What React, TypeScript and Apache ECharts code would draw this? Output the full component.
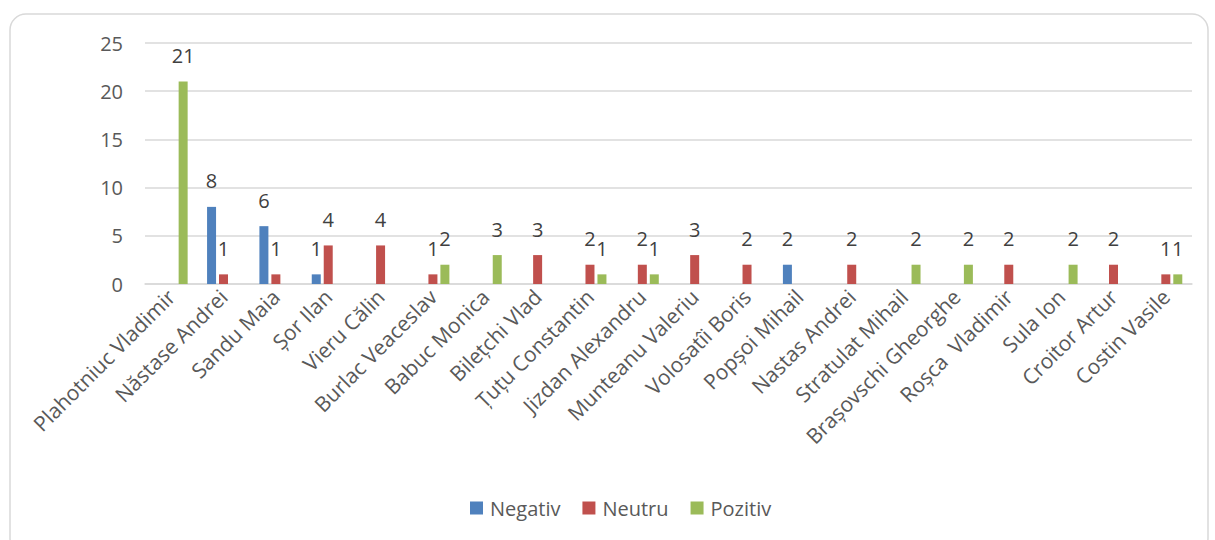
import React, { useEffect, useRef } from "react";
import * as echarts from "echarts";

const categories = [
  "Plahotniuc Vladimir", "Năstase Andrei", "Sandu Maia", "Șor Ilan", "Vieru Călin",
  "Burlac Veaceslav", "Babuc Monica", "Bilețchi Vlad", "Țuțu Constantin", "Jizdan Alexandru",
  "Munteanu Valeriu", "Volosatîi Boris", "Popșoi Mihail", "Nastas Andrei", "Stratulat Mihail",
  "Brașovschi Gheorghe", "Roșca  Vladimir", "Sula Ion", "Croitor Artur", "Costin Vasile",
];
const negativ = [0, 8, 6, 1, 0, 0, 0, 0, 0, 0, 0, 0, 2, 0, 0, 0, 0, 0, 0, 0];
const neutru = [0, 1, 1, 4, 4, 1, 0, 3, 2, 2, 3, 2, 0, 2, 0, 0, 2, 0, 2, 1];
const pozitiv = [21, 0, 0, 0, 0, 2, 3, 0, 1, 1, 0, 0, 0, 0, 2, 2, 0, 2, 0, 1];
const seriesNames = ["Negativ", "Neutru", "Pozitiv"];
const colors = ["#4F81BD", "#C0504D", "#9BBB59"];

const FONT = "'Open Sans', sans-serif";

export default function App() {
  const ref = useRef<HTMLDivElement>(null);
  useEffect(() => {
    document.body.style.margin = "0";
    const chart = echarts.init(ref.current!, undefined, { renderer: "svg" });
    const mk = (name: string, data: number[], color: string) => ({
      name,
      type: "bar",
      data,
      barWidth: 9,
      barGap: "33%",
      itemStyle: { color },
      label: {
        show: true,
        position: "top",
        distance: 16,
        color: "#404040",
        fontSize: 20,
        fontFamily: FONT,
        formatter: (p: any) => (p.value ? String(p.value) : ""),
      },
    });
    chart.setOption({
      animation: false,
      textStyle: { fontFamily: FONT },
      graphic: [
        {
          type: "rect",
          shape: { x: 10, y: 14, width: 1198, height: 540, r: 16 },
          style: { fill: "none", stroke: "#D9D9D9", lineWidth: 1.5 },
          silent: true,
        },
      ],
      legend: {
        data: seriesNames,
        top: 493,
        left: 465,
        itemWidth: 13,
        itemHeight: 13,
        itemGap: 22,
        icon: "rect",
        textStyle: { color: "#595959", fontSize: 20, fontFamily: FONT, padding: [0, 0, 0, 2] },
      },
      grid: { left: 145, right: 23, top: 43, bottom: 256, containLabel: false },
      xAxis: {
        type: "category",
        data: categories,
        axisTick: { show: false },
        axisLine: { lineStyle: { color: "#D9D9D9", width: 1.5 } },
        axisLabel: {
          interval: 0,
          rotate: 45,
          margin: 9,
          color: "#595959",
          fontSize: 21,
          fontFamily: FONT,
        },
      },
      yAxis: {
        type: "value",
        min: 0,
        max: 25,
        interval: 5,
        axisLine: { show: false },
        axisTick: { show: false },
        axisLabel: { color: "#595959", fontSize: 20, fontFamily: FONT, margin: 22 },
        splitLine: { lineStyle: { color: "#D9D9D9", width: 1.5 } },
      },
      series: [
        mk(seriesNames[0], negativ, colors[0]),
        mk(seriesNames[1], neutru, colors[1]),
        mk(seriesNames[2], pozitiv, colors[2]),
      ],
    });
    return () => chart.dispose();
  }, []);
  return <div ref={ref} style={{ width: 1215, height: 540, position: "absolute", left: 0, top: 0 }} />;
}
